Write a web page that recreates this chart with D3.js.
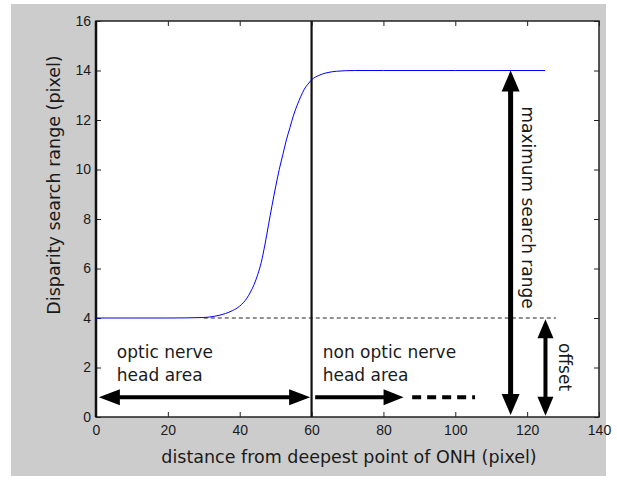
<!DOCTYPE html>
<html>
<head>
<meta charset="utf-8">
<script src="https://cdn.jsdelivr.net/npm/d3@7"></script>
<style>
    body { margin: 0; background: #fff; }
    .tick text { font-family: 'Liberation Sans', Arial, sans-serif; font-size: 14px; fill: #1a1a1a; }
    .label { font-family: 'DejaVu Sans', sans-serif; font-size: 17px; fill: #1a1a1a; }
    .title { font-family: 'DejaVu Sans', sans-serif; font-size: 17.5px; fill: #1a1a1a; }
</style>
</head>
<body>
<div id="container"></div>
<script>
// curve
const distance = [0, 10, 20, 30, 33, 36, 38, 40, 42, 43, 44, 45, 46, 47, 48, 49, 50, 51, 52, 53, 54, 55, 56, 57, 58, 59, 60, 62, 64, 67, 72, 80, 100, 125];
const searchRange = [4, 4, 4, 4.02, 4.07, 4.18, 4.3, 4.48, 4.8, 5.05, 5.35, 5.75, 6.25, 6.95, 7.75, 8.55, 9.3, 10.0, 10.6, 11.2, 11.7, 12.2, 12.6, 12.95, 13.25, 13.45, 13.62, 13.8, 13.9, 13.97, 14, 14, 14, 14];
const xTicks = [0, 20, 40, 60, 80, 100, 120, 140];
const yTicks = [0, 2, 4, 6, 8, 10, 12, 14, 16];
const boundaryX = 60;
const offsetLevel = 4;

const width = 617, height = 486;
const margin = { top: 21, right: 18, bottom: 69, left: 96 };

const svg = d3.select('#container').append('svg')
    .attr('width', width)
    .attr('height', height);

// gray figure background
svg.append('rect')
    .attr('x', 11).attr('y', 4)
    .attr('width', 595).attr('height', 472)
    .attr('fill', '#cccccc');

const xScale = d3.scaleLinear()
    .domain([0, 140])
    .range([margin.left, width - margin.right]);
const yScale = d3.scaleLinear()
    .domain([0, 16])
    .range([height - margin.bottom, margin.top]);

svg.append('rect')
    .attr('x', xScale(0)).attr('y', yScale(16))
    .attr('width', xScale(140) - xScale(0))
    .attr('height', yScale(0) - yScale(16))
    .attr('fill', '#fff');

// axes, ticks pointing inward like matlab
const xAxis = d3.axisBottom(xScale).tickValues(xTicks).tickSizeInner(-5).tickSizeOuter(0).tickPadding(8);
const yAxis = d3.axisLeft(yScale).tickValues(yTicks).tickSizeInner(-5).tickSizeOuter(0).tickPadding(5);
const xTop = d3.axisTop(xScale).tickValues(xTicks).tickSizeInner(-5).tickSizeOuter(0).tickFormat('');
const yRight = d3.axisRight(yScale).tickValues(yTicks).tickSizeInner(-5).tickSizeOuter(0).tickFormat('');

svg.append('g').attr('transform', 'translate(0,' + yScale(0) + ')').call(xAxis);
svg.append('g').attr('transform', 'translate(' + xScale(0) + ',0)').call(yAxis);
svg.append('g').attr('transform', 'translate(0,' + yScale(16) + ')').call(xTop);
svg.append('g').attr('transform', 'translate(' + xScale(140) + ',0)').call(yRight);
svg.selectAll('.domain').remove();
svg.selectAll('.tick line').attr('stroke', '#222').attr('stroke-width', 1);

// box
svg.append('rect')
    .attr('x', xScale(0)).attr('y', yScale(16))
    .attr('width', xScale(140) - xScale(0))
    .attr('height', yScale(0) - yScale(16))
    .attr('fill', 'none')
    .attr('stroke', '#222')
    .attr('stroke-width', 1.5);

// dashed offset level
svg.append('line')
    .attr('x1', xScale(30)).attr('x2', xScale(128))
    .attr('y1', yScale(offsetLevel)).attr('y2', yScale(offsetLevel))
    .attr('stroke', '#222')
    .attr('stroke-width', 1)
    .attr('stroke-dasharray', '4,3');

// vertical lines at 0 and at the boundary
[0, boundaryX].forEach(v => {
    svg.append('line')
        .attr('x1', xScale(v)).attr('x2', xScale(v))
        .attr('y1', yScale(16)).attr('y2', yScale(0))
        .attr('stroke', '#111')
        .attr('stroke-width', v === 0 ? 2.5 : 2.2);
});

// curve
const line = d3.line()
    .x((d, i) => xScale(distance[i]))
    .y(d => yScale(d))
    .curve(d3.curveMonotoneX);
svg.append('path')
    .datum(searchRange)
    .attr('d', line)
    .attr('fill', 'none')
    .attr('stroke', '#0000ff')
    .attr('stroke-width', 1);

// arrows
const drawArrow = (x1, y1, x2, y2, opts) => {
    const g = svg.append('g');
    const p1 = [xScale(x1), yScale(y1)];
    const p2 = [xScale(x2), yScale(y2)];
    const dx = p2[0] - p1[0], dy = p2[1] - p1[1];
    const len = Math.sqrt(dx * dx + dy * dy);
    const ux = dx / len, uy = dy / len;
    const hl = opts.headLength, hw = opts.headWidth;
    const head = (tip, dir) => {
        const bx = tip[0] - dir[0] * hl, by = tip[1] - dir[1] * hl;
        return [[tip[0], tip[1]], [bx - dir[1] * hw, by + dir[0] * hw], [bx + dir[1] * hw, by - dir[0] * hw]];
    };
    const s1 = opts.startHead ? [p1[0] + ux * (hl - 1), p1[1] + uy * (hl - 1)] : p1;
    const s2 = [p2[0] - ux * (hl - 1), p2[1] - uy * (hl - 1)];
    g.append('line')
        .attr('x1', s1[0]).attr('y1', s1[1])
        .attr('x2', s2[0]).attr('y2', s2[1])
        .attr('stroke', '#000')
        .attr('stroke-width', opts.thickness);
    g.append('polygon')
        .attr('points', head(p2, [ux, uy]).join(' '))
        .attr('fill', '#000');
    if (opts.startHead) {
        g.append('polygon')
            .attr('points', head(p1, [-ux, -uy]).join(' '))
            .attr('fill', '#000');
    }
};

drawArrow(0.8, 0.8, 59.6, 0.8, { startHead: true, headLength: 21, headWidth: 8, thickness: 4 });
drawArrow(61, 0.8, 85.6, 0.8, { startHead: false, headLength: 20, headWidth: 8, thickness: 4 });
svg.append('line')
    .attr('x1', xScale(88)).attr('x2', xScale(105.5))
    .attr('y1', yScale(0.8)).attr('y2', yScale(0.8))
    .attr('stroke', '#000')
    .attr('stroke-width', 4)
    .attr('stroke-dasharray', '9,6');
drawArrow(115.4, 0.08, 115.4, 14, { startHead: true, headLength: 21, headWidth: 9, thickness: 5 });
drawArrow(125.1, 0.05, 125.1, 3.95, { startHead: true, headLength: 19, headWidth: 8, thickness: 4 });

// annotation texts
const addText = (txt, x, y, rot) => {
    const t = svg.append('text').attr('class', 'label').text(txt);
    if (rot) {
        t.attr('text-anchor', 'middle')
            .attr('dominant-baseline', 'central')
            .attr('transform', 'translate(' + xScale(x) + ',' + yScale(y) + ') rotate(' + rot + ')');
    } else {
        t.attr('x', xScale(x)).attr('y', yScale(y));
    }
};
addText('optic nerve', 5.8, 2.38);
addText('head area', 5.8, 1.47);
addText('non optic nerve', 63.1, 2.38);
addText('head area', 63.1, 1.47);
addText('maximum search range', 120.1, 8.46, 90);
addText('offset', 130.5, 2.02, 90);

// axis titles
svg.append('text')
    .attr('class', 'title')
    .attr('text-anchor', 'middle')
    .attr('x', 349)
    .attr('y', 463)
    .text('distance from deepest point of ONH (pixel)');
svg.append('text')
    .attr('class', 'title')
    .attr('text-anchor', 'middle')
    .attr('transform', 'translate(' + 60 + ',' + 185 + ') rotate(-90)')
    .text('Disparity search range (pixel)');
</script>
</body>
</html>
